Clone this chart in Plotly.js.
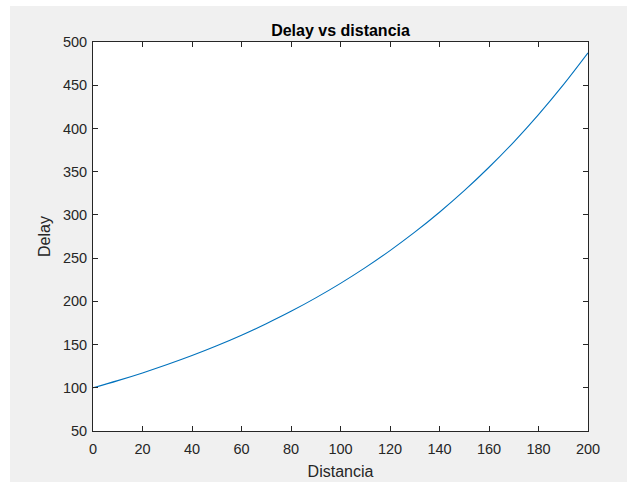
<!DOCTYPE html>
<html>
<head>
<meta charset="utf-8">
<script src="https://cdn.plot.ly/plotly-3.0.1.min.js"></script>
<style>
  html, body { margin: 0; padding: 0; background: #ffffff; width: 627px; height: 482px; overflow: hidden; }
  #chart { position: absolute; left: 10px; top: 6px; width: 617px; height: 476px; }
</style>
</head>
<body>
<div id="chart"></div>
<script>
// Data
const distancia = [0, 10, 20, 30, 40, 50, 60, 70, 80, 90, 100, 110, 120, 130, 140, 150, 160, 170, 180, 190, 200];
const delay = [100, 108.3, 117.2, 126.9, 137.3, 148.6, 160.8, 174.1, 188.4, 204.0, 220.8, 239.0, 258.7, 280.0, 303.1, 328.0, 355.1, 384.3, 416.0, 450.3, 487.4];
const xTicks = [0, 20, 40, 60, 80, 100, 120, 140, 160, 180, 200];
const yTicks = [50, 100, 150, 200, 250, 300, 350, 400, 450, 500];

const axisColor = '#262626';
const fontFam = 'Liberation Sans, Arial, sans-serif';

const trace = {
  x: distancia,
  y: delay,
  type: 'scatter',
  mode: 'lines',
  line: { color: '#0072BD', width: 1.1, shape: 'spline', smoothing: 1 },
  hoverinfo: 'skip'
};

const commonAxis = {
  showgrid: false,
  zeroline: false,
  showline: true,
  linecolor: axisColor,
  linewidth: 1,
  mirror: 'ticks',
  ticks: 'inside',
  ticklen: 5,
  tickwidth: 1,
  tickcolor: axisColor,
  tickfont: { family: fontFam, size: 14.5, color: axisColor },
  tickmode: 'array',
  automargin: false
};

const layout = {
  width: 617,
  height: 476,
  paper_bgcolor: '#f0f0f0',
  plot_bgcolor: '#ffffff',
  showlegend: false,
  margin: { l: 83, r: 39, t: 36, b: 51, pad: 0 },
  title: {
    text: '<b>Delay vs distancia</b>',
    font: { family: fontFam, size: 16, color: '#000000' },
    x: 0.5, xref: 'paper', xanchor: 'center',
    y: 1, yref: 'paper', yanchor: 'bottom',
    pad: { b: 6 }
  },
  xaxis: Object.assign({}, commonAxis, {
    range: [0, 200],
    tickvals: xTicks,
    ticktext: xTicks.map(String),
    ticklabelstandoff: 5,
    title: { text: 'Distancia', font: { family: fontFam, size: 16, color: axisColor }, standoff: 9 }
  }),
  yaxis: Object.assign({}, commonAxis, {
    range: [50, 500],
    tickvals: yTicks,
    ticktext: yTicks.map(String),
    ticklabelstandoff: 2,
    title: { text: 'Delay', font: { family: fontFam, size: 16, color: axisColor }, standoff: 8 }
  })
};

Plotly.newPlot('chart', [trace], layout, { staticPlot: true, displayModeBar: false });
</script>
</body>
</html>
